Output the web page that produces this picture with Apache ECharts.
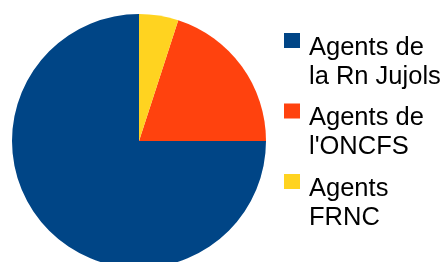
<!DOCTYPE html>
<html>
<head>
<meta charset="utf-8">
<script src="https://cdn.jsdelivr.net/npm/echarts@6/dist/echarts.min.js"></script>
<style>
    html, body {margin: 0; padding: 0; background: #fff;}
    #chart {width: 445px; height: 262px;}
</style>
</head>
<body>
<div id="chart"></div>
<script>
// parts de chaque groupe d'agents (%)
const categories = ['Agents de\nla Rn Jujols', "Agents de\nl'ONCFS", 'Agents\nFRNC'];
const values = [75, 20, 5];
const colors = ['#004586', '#ff420e', '#ffd320'];

function build_pie_option() {
    let data = categories.map(function (name, i) {
        return {name: name, value: values[i], itemStyle: {color: colors[i]}};
    });

    return {
        animation: false,
        legend: {
            show: true,
            orient: 'vertical',
            left: 284,
            top: 33,
            padding: 0,
            // carré en haut d'une boîte de 20x58 pour aligner avec la première ligne
            icon: 'path://M0,0h16v15h-16z M20,58',
            itemWidth: 20,
            itemHeight: 58,
            itemGap: 12.5,
            selectedMode: false,
            textStyle: {
                fontFamily: 'Liberation Sans',
                fontSize: 25.5,
                lineHeight: 29,
                color: '#000'
            }
        },
        series: [{
            type: 'pie',
            center: [139, 141],
            radius: 127,
            startAngle: 90,
            clockwise: false,
            label: {show: false},
            labelLine: {show: false},
            emphasis: {disabled: true},
            data: data
        }]
    };
}

let chart = echarts.init(document.getElementById('chart'), null, {renderer: 'canvas'});
chart.setOption(build_pie_option());
</script>
</body>
</html>
